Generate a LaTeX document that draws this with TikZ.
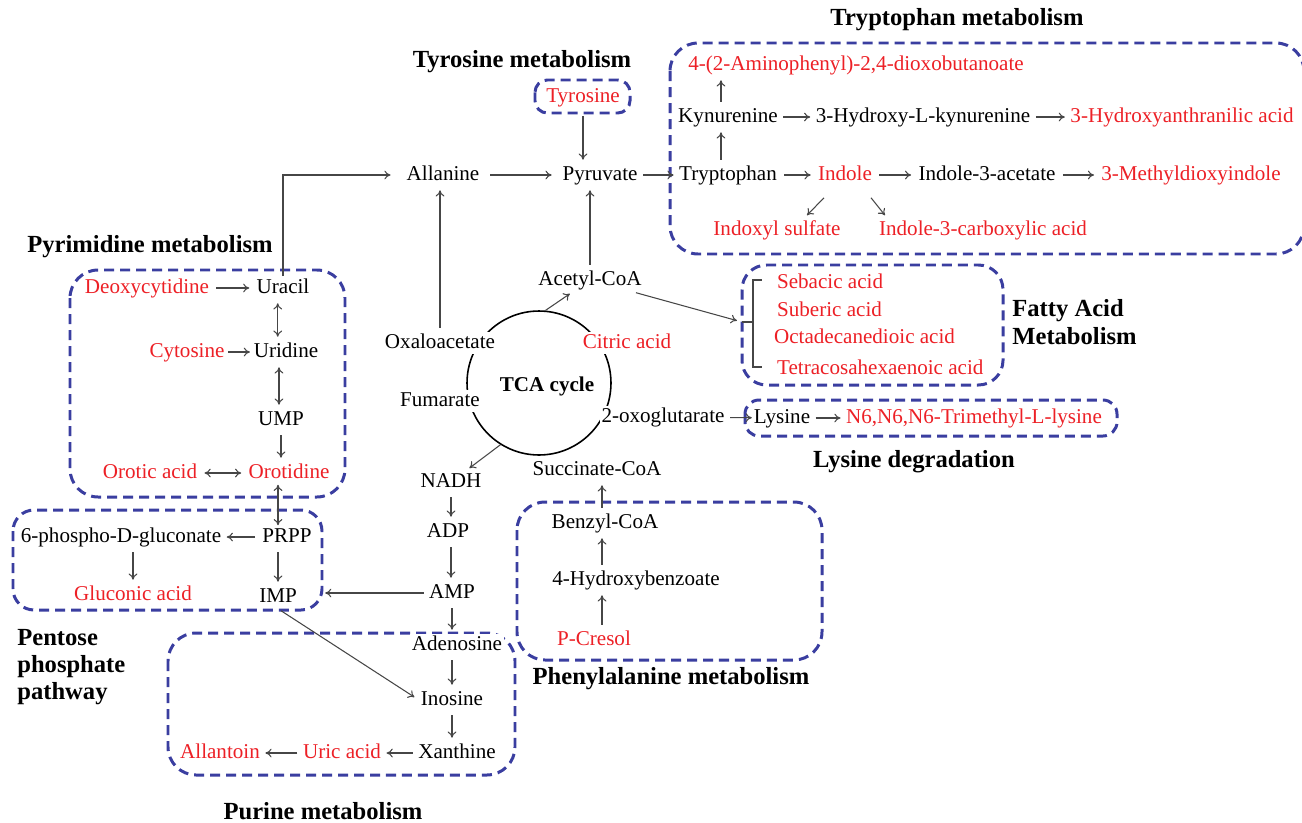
\documentclass[tikz,border=0pt]{standalone}
\usepackage{fontspec}
\setmainfont{Liberation Serif}
\usetikzlibrary{arrows.meta}
\definecolor{hitred}{RGB}{237,32,38}
\definecolor{grpblue}{RGB}{58,62,160}
\definecolor{arrgray}{RGB}{70,70,70}

\begin{document}
\begin{tikzpicture}[x=0.02cm,y=-0.02cm,
		met/.style={fill=white,inner sep=1pt,text height=8.5pt,text depth=2.5pt,font=\fontsize{12}{14}\selectfont},
		hit/.style={met,text=hitred},
		ttl/.style={font=\fontsize{14}{15.5}\selectfont\bfseries,inner sep=0pt,align=left},
		grp/.style={draw=grpblue,line width=1.7pt,dash pattern=on 5.7pt off 3.4pt,rounded corners=#1},
		grp/.default=16pt,
		arr/.style={draw=arrgray,line width=0.6pt,shorten <=2pt,shorten >=2pt,-{To[length=3.5pt,width=5pt]}},
		dbl/.style={draw=arrgray,line width=0.6pt,{To[length=3.5pt,width=5pt]}-{To[length=3.5pt,width=5pt]}}]
	\useasboundingbox (0,0) rectangle (1302,822);

	\draw[grp] (670,43) rectangle (1304,254);
	\draw[grp=7pt] (535,80) rectangle (630,113);
	\draw[grp=14pt] (742,265) rectangle (1003,385);
	\draw[grp=8pt] (745,400) rectangle (1117,436);
	\draw[grp] (70,270) rectangle (345,497);
	\draw[grp=12pt] (13,510) rectangle (322,610);
	\draw[grp] (168,633) rectangle (515,775);
	\draw[grp] (517,502) rectangle (822,660);

	\node[ttl] (ttrp) at (957,20) {Tryptophan metabolism};
	\node[ttl] (ttyr) at (522,62) {Tyrosine metabolism};
	\node[ttl] (tpyr) at (150,247) {Pyrimidine metabolism};
	\node[ttl,anchor=west] (tfat) at (1012,322) {Fatty Acid\\Metabolism};
	\node[ttl] (tlys) at (914,462) {Lysine degradation};
	\node[ttl,anchor=west] (tppp) at (17,667) {Pentose\\phosphate\\pathway};
	\node[ttl] (tphe) at (671,679) {Phenylalanine metabolism};
	\node[ttl] (tpur) at (323,811) {Purine metabolism};

	\node (tca) [circle,draw,line width=0.9pt,minimum size=2.88cm,inner sep=0pt] at (539,383) {};
	\node (tcal) [font=\fontsize{12}{14}\selectfont\bfseries] at (547,386) {TCA cycle};

	\node[hit] (tyr) at (583,97) {Tyrosine};
	\node[met] (ala) at (443,175) {Allanine};
	\node[met] (pyr) at (600,175) {Pyruvate};
	\node[met] (trp) at (728,175) {Tryptophan};
	\node[met] (kyn) at (728,117) {Kynurenine};
	\node[hit] (amino) at (856,65) {4-(2-Aminophenyl)-2,4-dioxobutanoate};
	\node[met] (hkyn) at (923,117) {3-Hydroxy-L-kynurenine};
	\node[hit] (haa) at (1182,117) {3-Hydroxyanthranilic acid};
	\node[hit] (ind) at (845,175) {Indole};
	\node[met] (iaa) at (987,175) {Indole-3-acetate};
	\node[hit] (mdi) at (1191,175) {3-Methyldioxyindole};
	\node[hit] (ixs) at (777,230) {Indoxyl sulfate};
	\node[hit] (ica) at (983,230) {Indole-3-carboxylic acid};

	\node[met] (acoa) at (590,280) {Acetyl-CoA};
	\node[met] (oxa) at (440,343) {Oxaloacetate};
	\node[hit] (cit) at (627,343) {Citric acid};
	\node[met] (fum) at (440,401) {Fumarate};
	\node[met] (oxg) at (663,417) {2-oxoglutarate};
	\node[met] (scoa) at (597,470) {Succinate-CoA};

	\node[hit,anchor=west] (seb) at (775,283) {Sebacic acid};
	\node[hit,anchor=west] (sub) at (775,311) {Suberic acid};
	\node[hit,anchor=west] (oct) at (772,338) {Octadecanedioic acid};
	\node[hit,anchor=west] (tet) at (775,369) {Tetracosahexaenoic acid};
	\coordinate (fa) at (742,322);
	\coordinate (fab) at (753,322);
	\node[met] (lys) at (782,418) {Lysine};
	\node[hit] (tml) at (974,418) {N6,N6,N6-Trimethyl-L-lysine};

	\node[met] (nadh) at (451,482) {NADH};
	\node[met] (adp) at (448,532) {ADP};
	\node[met] (amp) at (452,593) {AMP};
	\node[met] (ade) at (457,645) {Adenosine};
	\node[met] (ino) at (452,700) {Inosine};
	\node[met] (xan) at (457,753) {Xanthine};
	\node[hit] (uric) at (342,753) {Uric acid};
	\node[hit] (all) at (220,753) {Allantoin};

	\node[met] (bcoa) at (605,523) {Benzyl-CoA};
	\node[met] (hbz) at (636,580) {4-Hydroxybenzoate};
	\node[hit] (pcr) at (594,640) {P-Cresol};

	\node[hit] (dcyt) at (147,288) {Deoxycytidine};
	\node[met] (ura) at (283,288) {Uracil};
	\node[hit] (cyt) at (187,352) {Cytosine};
	\node[met] (uri) at (286,352) {Uridine};
	\node[met] (ump) at (281,420) {UMP};
	\node[hit] (ord) at (289,473) {Orotidine};
	\node[hit] (ora) at (150,473) {Orotic acid};
	\node[met] (prpp) at (287,537) {PRPP};
	\node[met] (pgl) at (121,537) {6-phospho-D-gluconate};
	\node[hit] (glc) at (133,595) {Gluconic acid};
	\node[met] (imp) at (278,597) {IMP};

	\draw[arr,shorten <=4pt] (tyr) -- (tyr |- pyr.north);
	\draw[arr,shorten <=5pt,shorten >=5pt] (ala) -- (pyr);
	\draw[arr] (pyr) -- (trp);
	\draw[arr] (acoa) -- (acoa |- pyr.south);
	\draw[arr] (oxa) -- (oxa |- ala.south);
	\draw[arr,shorten <=0pt,shorten >=8pt] (ura.north) |- (ala.west);
	\draw[arr] ([xshift=-4pt]trp.north) -- ([xshift=-4pt]kyn.south);
	\draw[arr] ([xshift=-4pt]kyn.north) -- ([xshift=-4pt]kyn.north |- amino.south);
	\draw[arr] (kyn) -- (hkyn);
	\draw[arr] (hkyn) -- (haa);
	\draw[arr,shorten <=3pt,shorten >=3pt] (trp) -- (ind);
	\draw[arr,shorten <=3pt,shorten >=3pt] (ind) -- (iaa);
	\draw[arr,shorten <=3pt,shorten >=3pt] (iaa) -- (mdi);
	\draw[arr,shorten <=0pt,shorten >=0pt] ([shift={(-21,11)}]ind.south) -- ([shift={(30,-3)}]ixs.north);
	\draw[arr,shorten <=0pt,shorten >=0pt] ([shift={(26,11)}]ind.south) -- ([shift={(-98,-3)}]ica.north);

	\draw[arr,shorten <=0pt] (tca.85) -- (acoa);
	\draw[arr,shorten >=3pt] (acoa) -- (fa);
	\draw[arrgray,line width=0.6pt] (fa) -- (fab);
	\draw[arrgray,line width=0.6pt] (fab) -- ++(0,-42) -- ++(9,0);
	\draw[arrgray,line width=0.6pt] (fab) -- ++(0,45) -- ++(9,0);
	\draw[arr,shorten >=0pt] (oxg) -- (lys);
	\draw[arr] (lys) -- (tml);
	\draw[arr,shorten <=0pt] (tca.238) -- (nadh);

	\draw[arr] (nadh.south) -- (nadh.south |- adp.north);
	\draw[arr] (adp.south -| nadh) -- (nadh |- amp.north);
	\draw[arr] (amp) -- (amp |- ade.north);
	\draw[arr] (amp |- ade.south) -- (amp |- ino.north);
	\draw[arr] (ino) -- (ino |- xan.north);
	\draw[arr] (xan) -- (uric);
	\draw[arr] (uric) -- (all);
	\draw[arr,shorten >=15pt] (amp) -- (amp -| imp.east);
	\draw[arr,shorten >=3pt] (imp.south) -- (ino.west);

	\draw[arr] (bcoa.north -| 602,0) -- (scoa.south -| 602,0);
	\draw[arr] (hbz.north -| 602,0) -- (bcoa.south -| 602,0);
	\draw[arr] (pcr.north -| 602,0) -- (hbz.south -| 602,0);

	\draw[arr,shorten <=3pt,shorten >=3pt] (dcyt) -- (ura);
	\draw[dbl,shorten <=2pt,shorten >=2pt] ([xshift=-3pt]ura.south) -- ([xshift=-3pt]ura.south |- uri.north);
	\draw[arr,shorten <=1pt,shorten >=1pt] (cyt) -- (uri);
	\draw[dbl,shorten <=2pt,shorten >=2pt] ([xshift=-4pt]uri.south) -- ([xshift=-4pt]uri.south |- ump.north);
	\draw[arr] (ump) -- (ump |- ord.north);
	\draw[dbl,shorten <=3pt,shorten >=3pt] (ora) -- (ord);
	\draw[dbl] (imp |- ord.south) -- (imp |- prpp.north);
	\draw[arr,shorten <=3pt,shorten >=2pt] (prpp) -- (pgl);
	\draw[arr] (glc |- pgl.south) -- (glc);
	\draw[arr] (imp |- prpp.south) -- (imp);
\end{tikzpicture}
\end{document}
